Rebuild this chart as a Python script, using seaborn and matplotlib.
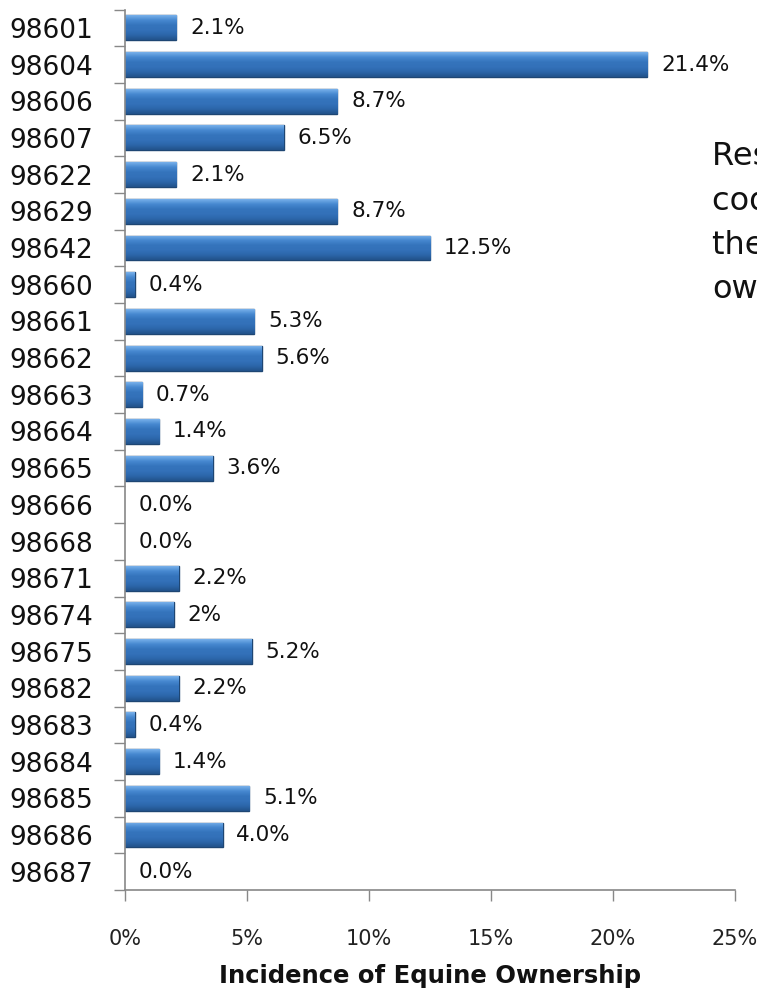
import matplotlib
matplotlib.use("Agg")
import matplotlib.pyplot as plt
from matplotlib.colors import LinearSegmentedColormap
import seaborn as sns
import numpy as np
import pandas as pd

# data
zips = ["98601", "98604", "98606", "98607", "98622", "98629", "98642", "98660",
        "98661", "98662", "98663", "98664", "98665", "98666", "98668", "98671",
        "98674", "98675", "98682", "98683", "98684", "98685", "98686", "98687"]
pct = [2.1, 21.4, 8.7, 6.5, 2.1, 8.7, 12.5, 0.4,
       5.3, 5.6, 0.7, 1.4, 3.6, 0.0, 0.0, 2.2,
       2.0, 5.2, 2.2, 0.4, 1.4, 5.1, 4.0, 0.0]
pct_labels = ["2.1%", "21.4%", "8.7%", "6.5%", "2.1%", "8.7%", "12.5%", "0.4%",
              "5.3%", "5.6%", "0.7%", "1.4%", "3.6%", "0.0%", "0.0%", "2.2%",
              "2%", "5.2%", "2.2%", "0.4%", "1.4%", "5.1%", "4.0%", "0.0%"]
xticks = [0, 5, 10, 15, 20, 25]

df = pd.DataFrame({"zip": zips, "pct": pct})

sns.set_style("white")
plt.rcParams["font.family"] = ["DejaVu Sans"]

fig = plt.figure(figsize=(7.57, 9.96), dpi=100)
ax = fig.add_axes([0.165, 0.1064, 0.806, 0.884])

sns.barplot(data=df, x="pct", y="zip", orient="h", color="#2E6DB4",
            edgecolor="#1E4673", linewidth=1.0, width=0.68, saturation=1, ax=ax)

# bevel-like vertical gradient inside every bar
cmap = LinearSegmentedColormap.from_list(
    "bevel", ["#78B0EA", "#4688D0", "#3574BC", "#3371B9", "#2C66AA", "#22528A"])
grad = np.linspace(0, 1, 64).reshape(-1, 1)
for p in ax.patches:
    x0, y0, w, h = p.get_x(), p.get_y(), p.get_width(), p.get_height()
    if w <= 0:
        p.set_visible(False)
        continue
    im = ax.imshow(grad, cmap=cmap, aspect="auto", origin="upper",
                   extent=(x0, x0 + w, y0 + h, y0), zorder=p.get_zorder() + 0.1)
    im.set_clip_path(p)

ax.bar_label(ax.containers[0], labels=pct_labels, padding=10, fontsize=15.5,
             color="#111111")

ax.set_xlim(0, 25)
ax.set_ylim(len(zips) - 0.5, -0.5)
ax.set_xticks(xticks)
ax.set_xticklabels([f"{t}%" for t in xticks], fontsize=15, color="#222222")
ax.tick_params(axis="x", bottom=True, length=8, width=1, color="#888888", pad=20,
               direction="out")

# zip labels at the centre, tick marks on the category borders
ax.tick_params(axis="y", which="major", length=0, labelsize=19, pad=23, labelcolor="#111111")
ax.set_yticks(np.arange(-0.5, len(zips), 1), minor=True)
ax.tick_params(axis="y", which="minor", left=True, length=8, width=1, color="#888888",
               direction="out")

ax.set_ylabel("")
ax.set_xlabel("Incidence of Equine Ownership", fontsize=17.5, fontweight="bold",
              labelpad=11, color="#111111")

for s in ["top", "right"]:
    ax.spines[s].set_visible(False)
for s in ["left", "bottom"]:
    ax.spines[s].set_color("#888888")
    ax.spines[s].set_linewidth(1.2)

fig.text(0.941, 0.858, "Respondent zip\ncodes and\nthe equine\nownership",
         fontsize=23, va="top", ha="left", linespacing=1.55, color="#111111")

fig.savefig("out.png", dpi=100)
